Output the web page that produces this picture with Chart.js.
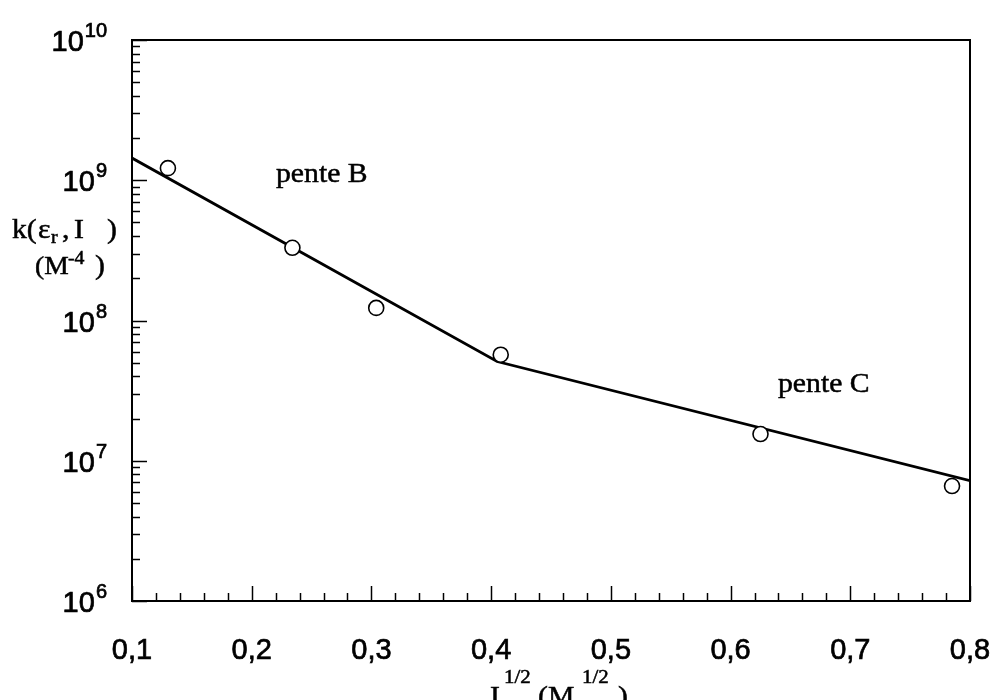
<!DOCTYPE html>
<html lang="fr">
<head>
<meta charset="UTF-8">
<title>k(εr, I) en fonction de I^1/2</title>
<script src="https://cdn.jsdelivr.net/npm/chart.js"></script>
<style>
  body { margin: 0; background: #fff; }
  #wrap { width: 995px; height: 700px; }
</style>
</head>
<body>
<div id="wrap"><canvas id="kChart" width="995" height="700"></canvas></div>
<script>
// mesures (I^1/2 en M^1/2, k en M^-4)
const sqrtI = [0.13, 0.234, 0.304, 0.408, 0.625, 0.785];
const kValues = [1.22e9, 3.3e8, 1.23e8, 5.7e7, 1.55e7, 6.6e6];

// droites des pentes B et C
const fitX = [0.1, 0.405, 0.8];
const fitK = [1.44e9, 5.1e7, 7.2e6];

// graduations
const xTickLabels = ['0,1', '0,2', '0,3', '0,4', '0,5', '0,6', '0,7', '0,8'];
const xTickValues = [0.1, 0.2, 0.3, 0.4, 0.5, 0.6, 0.7, 0.8];
const yExponents = [6, 7, 8, 9, 10];

const SANS = '"Liberation Sans", Arial, sans-serif';
const SERIF = '"Liberation Serif", "Times New Roman", serif';

// texte serif un peu élargi et épaissi
function serif(ctx, text, x, y, size) {
  ctx.save();
  ctx.font = size + 'px ' + SERIF;
  ctx.textAlign = 'left';
  ctx.textBaseline = 'alphabetic';
  ctx.translate(x, y);
  ctx.scale(1.1, 1);
  ctx.lineWidth = 0.5;
  ctx.fillText(text, 0, 0);
  ctx.strokeText(text, 0, 0);
  ctx.restore();
}

function sans(ctx, text, x, y, size, align) {
  ctx.font = size + 'px ' + SANS;
  ctx.textAlign = align;
  ctx.lineWidth = 0.7;
  ctx.fillText(text, x, y);
  ctx.strokeText(text, x, y);
}

const framePlugin = {
  id: 'frame',
  afterDraw(chart) {
    const ctx = chart.ctx;
    const a = chart.chartArea;
    const xs = chart.scales.x;
    const ys = chart.scales.y;
    ctx.save();
    ctx.strokeStyle = '#000';
    ctx.fillStyle = '#000';
    ctx.lineWidth = 2;
    ctx.strokeRect(a.left, a.top, a.right - a.left, a.bottom - a.top);

    // graduations de l'axe x (vers l'intérieur)
    ctx.lineWidth = 1.5;
    for (let i = 0; i <= 35; i++) {
      const v = 0.1 + i * 0.02;
      const px = Math.round(xs.getPixelForValue(v)) + 0.5;
      const len = i % 5 === 0 ? 15 : 8;
      ctx.beginPath();
      ctx.moveTo(px, a.bottom);
      ctx.lineTo(px, a.bottom - len);
      ctx.stroke();
    }
    // graduations logarithmiques de l'axe y
    for (const e of yExponents) {
      for (let m = 1; m <= 9; m++) {
        const v = m * Math.pow(10, e);
        if (v > 1e10) break;
        const py = Math.round(ys.getPixelForValue(v)) + 0.5;
        const len = m === 1 ? 15 : 8;
        ctx.beginPath();
        ctx.moveTo(a.left, py);
        ctx.lineTo(a.left + len, py);
        ctx.stroke();
      }
    }

    ctx.textBaseline = 'alphabetic';
    // étiquettes x
    xTickValues.forEach((v, i) => {
      sans(ctx, xTickLabels[i], xs.getPixelForValue(v), 659, 29, 'center');
    });

    // étiquettes y : 10 avec exposant
    for (const e of yExponents) {
      const py = ys.getPixelForValue(Math.pow(10, e));
      const exp = String(e);
      ctx.font = '20px ' + SANS;
      const we = ctx.measureText(exp).width;
      const right = 107;
      sans(ctx, '10', right - we - 1, py + 11, 29, 'right');
      sans(ctx, exp, right - we, py - 3, 20, 'left');
    }

    // titre de l'axe y
    serif(ctx, 'k(', 12, 238, 27);
    serif(ctx, 'ε', 38, 238, 27);
    serif(ctx, 'r', 51, 243, 18);
    serif(ctx, ',', 62, 238, 27);
    serif(ctx, 'I', 74, 238, 27);
    serif(ctx, ')', 107, 238, 27);
    serif(ctx, '(M', 35, 274, 25);
    serif(ctx, '-4', 68, 264, 18);
    serif(ctx, ')', 95, 274, 27);

    // titre de l'axe x
    serif(ctx, 'I', 490, 705, 27);
    serif(ctx, '1/2', 504, 683, 19);
    serif(ctx, '(M', 538, 705, 27);
    serif(ctx, '1/2', 582, 683, 19);
    serif(ctx, ')', 618, 705, 27);

    // annotations des pentes
    serif(ctx, 'pente B', 276, 182, 27);
    serif(ctx, 'pente C', 778, 392, 27);
    ctx.restore();
  }
};

const ctx = document.getElementById('kChart').getContext('2d');
new Chart(ctx, {
  type: 'scatter',
  data: {
    datasets: [
      {
        label: 'mesures',
        data: sqrtI.map((x, i) => ({ x: x, y: kValues[i] })),
        pointRadius: 7.5,
        pointBorderWidth: 1.6,
        pointBorderColor: '#000',
        pointBackgroundColor: '#fff',
        showLine: false,
        order: 0
      },
      {
        label: 'pentes',
        data: fitX.map((x, i) => ({ x: x, y: fitK[i] })),
        showLine: true,
        borderColor: '#000',
        borderWidth: 2.8,
        pointRadius: 0,
        tension: 0,
        order: 1
      }
    ]
  },
  options: {
    responsive: false,
    animation: false,
    layout: { padding: { left: 132, top: 40, right: 25, bottom: 99 } },
    plugins: { legend: { display: false }, tooltip: { enabled: false } },
    scales: {
      x: { type: 'linear', min: 0.1, max: 0.8, display: false },
      y: { type: 'logarithmic', min: 1e6, max: 1e10, display: false }
    }
  },
  plugins: [framePlugin]
});
</script>
</body>
</html>
